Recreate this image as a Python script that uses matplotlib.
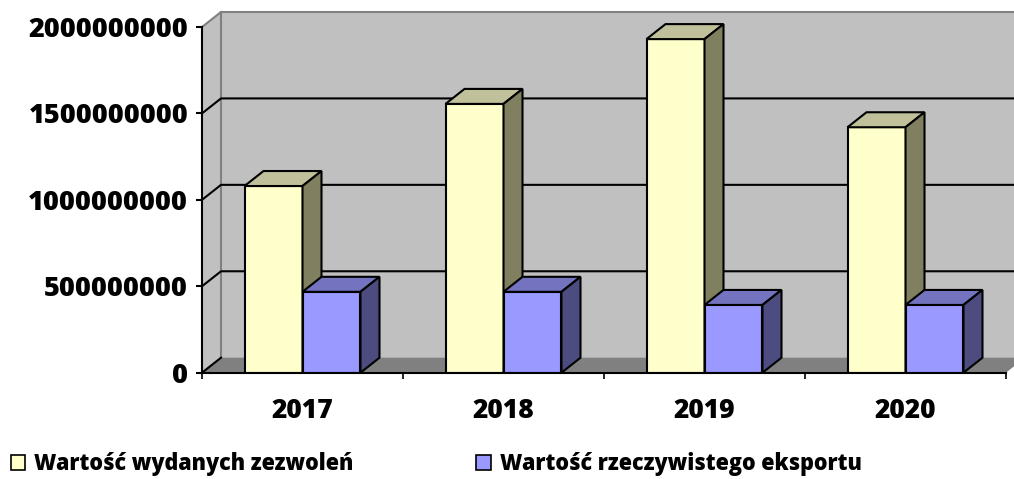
import matplotlib
matplotlib.use("Agg")
import matplotlib.pyplot as plt
from matplotlib.patches import Polygon, Patch

# ---- data ----
categories = ["2017", "2018", "2019", "2020"]
series_names = ["Wartość wydanych zezwoleń", "Wartość rzeczywistego eksportu"]
permits = [1.08e9, 1.555e9, 1.93e9, 1.42e9]
exports = [4.68e8, 4.68e8, 3.92e8, 3.92e8]
yticks = [0, 5e8, 1e9, 1.5e9, 2e9]
ytick_labels = ["0", "500000000", "1000000000", "1500000000", "2000000000"]

plt.rcParams["font.family"] = ["Open Sans", "DejaVu Sans"]
plt.rcParams["font.weight"] = "bold"

W, H = 1014, 479
fig = plt.figure(figsize=(W / 100, H / 100), dpi=100)
left_px, right_px, top_px, bot_px = 202, 1006, 27, 372.7
ax = fig.add_axes([left_px / W, 1 - bot_px / H, (right_px - left_px) / W, (bot_px - top_px) / H])
ax.set_xlim(0, len(categories))
ax.set_ylim(0, 2e9)
ax.set_facecolor("none")

# depth offset (pixels) converted to data units
depth_px_x, depth_px_y = 19, 15
dx = depth_px_x * len(categories) / (right_px - left_px)
dy = depth_px_y * 2e9 / (bot_px - top_px)
ymax = 2e9
n = len(categories)

wall = "#C0C0C0"
wall_edge = "#808080"
ax.add_patch(Polygon([(0, 0), (0, ymax), (dx, ymax + dy), (dx, dy)], closed=True,
                     facecolor=wall, edgecolor="none", clip_on=False, zorder=0))
ax.add_patch(Polygon([(dx, dy), (dx, ymax + dy), (n + dx, ymax + dy), (n + dx, dy)], closed=True,
                     facecolor=wall, edgecolor="none", clip_on=False, zorder=0))
ax.add_patch(Polygon([(0, 0), (n, 0), (n + dx, dy), (dx, dy)], closed=True,
                     facecolor="#808080", edgecolor="none", clip_on=False, zorder=0.5))
ax.plot([0, dx, n + dx], [ymax, ymax + dy, ymax + dy], color=wall_edge, lw=1.5, clip_on=False, zorder=1)
ax.plot([dx, dx], [dy, ymax + dy], color=wall_edge, lw=1.5, clip_on=False, zorder=1)
for v in yticks[1:-1]:
    ax.plot([0, dx, n + dx], [v, v + dy, v + dy], color="black", lw=1.5, clip_on=False, zorder=1)
ax.plot([0, dx], [0, dy], color="black", lw=1.5, clip_on=False, zorder=1)

bar_w = 0.2885
offsets = [0.2115, 0.5]
colors = [("#FFFFCC", "#C0C09A", "#808060"), ("#9999FF", "#7373BF", "#4C4C80")]
z = 2
for i in range(n):
    for s, vals in enumerate([permits, exports]):
        x0 = i + offsets[s]
        x1 = x0 + bar_w
        v = vals[i]
        front, topc, sidec = colors[s]
        ax.bar(x0, v, width=bar_w, align="edge", color=front, edgecolor="black",
               linewidth=1.5, zorder=z)
        ax.add_patch(Polygon([(x0, v), (x1, v), (x1 + dx, v + dy), (x0 + dx, v + dy)], closed=True,
                             facecolor=topc, edgecolor="black", linewidth=1.5, zorder=z, clip_on=False))
        ax.add_patch(Polygon([(x1, 0), (x1, v), (x1 + dx, v + dy), (x1 + dx, dy)], closed=True,
                             facecolor=sidec, edgecolor="black", linewidth=1.5, zorder=z, clip_on=False))
        z += 0.01

for sp in ["top", "right"]:
    ax.spines[sp].set_visible(False)
ax.spines["left"].set_linewidth(1.5)
ax.spines["bottom"].set_linewidth(1.5)
ax.spines["left"].set_zorder(5)
ax.spines["bottom"].set_zorder(5)
ax.set_yticks(yticks)
ax.set_yticklabels(ytick_labels, fontsize=19.5, fontweight=800)
ax.tick_params(axis="y", length=4, width=1.5, pad=6)
ax.set_xticks(range(n + 1))
ax.set_xticklabels([""] * (n + 1))
ax.tick_params(axis="x", which="major", length=4, width=1.2)
ax.set_xticks([i + 0.5 for i in range(n)], minor=True)
ax.set_xticklabels(categories, minor=True, fontsize=19, fontweight=800)
ax.tick_params(axis="x", which="minor", length=0, pad=18)

handles = [Patch(facecolor=colors[0][0], edgecolor="black", linewidth=1.2),
           Patch(facecolor=colors[1][0], edgecolor="black", linewidth=1.2)]
fig.legend(handles, series_names, loc="upper left", bbox_to_anchor=(11 / W, 1 - 452 / H),
           ncol=2, frameon=False, handlelength=0.66, handleheight=0.66,
           handletextpad=0.42, columnspacing=5.7, borderpad=0, borderaxespad=0,
           prop={"weight": 800, "size": 15.5})

fig.savefig("out.png", dpi=100)
